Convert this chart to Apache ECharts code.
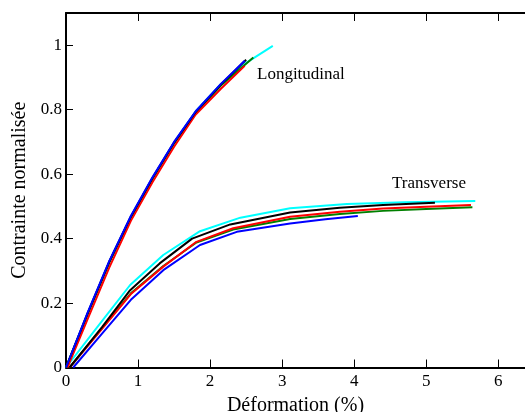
<!DOCTYPE html>
<html>
<head>
<meta charset="utf-8">
<script src="https://cdn.jsdelivr.net/npm/echarts@6/dist/echarts.min.js"></script>
<style>
  html, body { margin: 0; padding: 0; background: #fff; }
  #chart { width: 525px; height: 412px; }
</style>
</head>
<body>
<div id="chart"></div>
<script>
// Normalised stress vs. strain (%) — longitudinal and transverse specimens
const longBlue  = [[0,0],[0.3,0.17],[0.6,0.33],[0.9,0.47],[1.2,0.59],[1.5,0.7],[1.8,0.795],[2.15,0.88],[2.48,0.952]];
const longBlack = [[0,0],[0.3,0.168],[0.6,0.328],[0.9,0.468],[1.2,0.588],[1.5,0.698],[1.8,0.793],[2.15,0.878],[2.5,0.955]];
const longGreen = [[0,0],[0.3,0.165],[0.6,0.325],[0.9,0.465],[1.2,0.585],[1.5,0.695],[1.8,0.79],[2.15,0.875],[2.6,0.962]];
const longCyan  = [[0,0],[0.3,0.168],[0.6,0.328],[0.9,0.468],[1.2,0.588],[1.5,0.698],[1.8,0.795],[2.15,0.88],[2.5,0.945],[2.87,0.998]];
const longRed   = [[0.02,0],[0.3,0.15],[0.6,0.31],[0.9,0.455],[1.2,0.575],[1.5,0.685],[1.8,0.785],[2.15,0.865],[2.48,0.936]];

const transCyan  = [[0,0],[0.45,0.13],[0.89,0.256],[1.35,0.349],[1.86,0.423],[2.42,0.465],[3.11,0.494],[3.9,0.507],[4.7,0.513],[5.68,0.517]];
const transBlack = [[0.05,0],[0.5,0.125],[0.89,0.24],[1.3,0.323],[1.75,0.4],[2.28,0.444],[3.11,0.481],[3.8,0.496],[4.4,0.504],[5.12,0.511]];
const transRed   = [[0.05,0],[0.5,0.12],[0.9,0.228],[1.35,0.313],[1.81,0.39],[2.32,0.432],[3.11,0.468],[3.8,0.483],[4.4,0.493],[5.0,0.499],[5.62,0.504]];
const transGreen = [[0.05,0],[0.5,0.122],[0.9,0.23],[1.35,0.315],[1.81,0.388],[2.32,0.428],[3.11,0.461],[3.8,0.476],[4.4,0.486],[5.0,0.492],[5.64,0.497]];
const transBlue  = [[0.1,0],[0.5,0.105],[0.9,0.21],[1.35,0.302],[1.86,0.38],[2.37,0.421],[3.11,0.447],[3.6,0.46],[4.05,0.47]];

const xTicks = [0, 1, 2, 3, 4, 5, 6];
const yTicks = [0, 0.2, 0.4, 0.6, 0.8, 1];
const labelLong = 'Longitudinal';
const labelTrans = 'Transverse';
const xTitle = 'Déformation (%)';
const yTitle = 'Contrainte normalisée';

const FONT = 'Liberation Serif';
const chart = echarts.init(document.getElementById('chart'), null, { renderer: 'canvas' });

function line(data, color) {
  return {
    type: 'line', data: data, showSymbol: false, symbol: 'none',
    lineStyle: { color: color, width: 2 }, itemStyle: { color: color },
    animation: false
  };
}

const axisCommon = {
  min: 0, interval: 1,
  axisLine: { show: true, lineStyle: { color: '#000', width: 2 } },
  axisTick: { show: true, inside: true, length: 8, lineStyle: { color: '#000', width: 1 } },
  splitLine: { show: false }
};

chart.setOption({
  backgroundColor: '#fff',
  animation: false,
  grid: { left: 66, right: 0, top: 13, bottom: 44.5, containLabel: false, outerBoundsMode: 'none' },
  xAxis: [
    Object.assign({}, axisCommon, {
      type: 'value', position: 'bottom', max: 6.37,
      name: xTitle, nameLocation: 'middle', nameGap: 21,
      nameTextStyle: { fontFamily: FONT, fontSize: 20, color: '#000' },
      axisLabel: {
        show: true, fontFamily: FONT, fontSize: 17, color: '#000', margin: 6,
        showMaxLabel: false,
        formatter: v => xTicks.includes(Math.round(v)) ? String(Math.round(v)) : ''
      }
    }),
    Object.assign({}, axisCommon, {
      type: 'value', position: 'top', max: 6.37,
      axisLabel: { show: false }
    })
  ],
  yAxis: [{
    type: 'value', min: 0, max: 1.1, interval: 0.2,
    name: yTitle, nameLocation: 'middle', nameGap: 26,
    nameTextStyle: { fontFamily: FONT, fontSize: 20, color: '#000' },
    axisLine: { show: true, lineStyle: { color: '#000', width: 2 } },
    axisTick: { show: true, inside: true, length: 7, lineStyle: { color: '#000', width: 1 } },
    splitLine: { show: false },
    axisLabel: {
      fontFamily: FONT, fontSize: 17, color: '#000', margin: 4,
      showMaxLabel: false,
      formatter: v => {
        const r = Math.round(v * 10) / 10;
        return yTicks.includes(r) ? String(r) : '';
      }
    }
  }],
  graphic: [
    { type: 'text', left: 257, top: 66, style: { text: labelLong, font: '17px "Liberation Serif"', fill: '#000' } },
    { type: 'text', left: 392, top: 175, style: { text: labelTrans, font: '17px "Liberation Serif"', fill: '#000' } }
  ],
  series: [
    line(transCyan, '#00ffff'),
    line(transGreen, '#008000'),
    line(transRed, '#ff0000'),
    line(transBlack, '#000000'),
    line(transBlue, '#0000ff'),
    line(longCyan, '#00ffff'),
    line(longGreen, '#008000'),
    line(longRed, '#ff0000'),
    line(longBlack, '#000000'),
    line(longBlue, '#0000ff')
  ]
});
</script>
</body>
</html>
